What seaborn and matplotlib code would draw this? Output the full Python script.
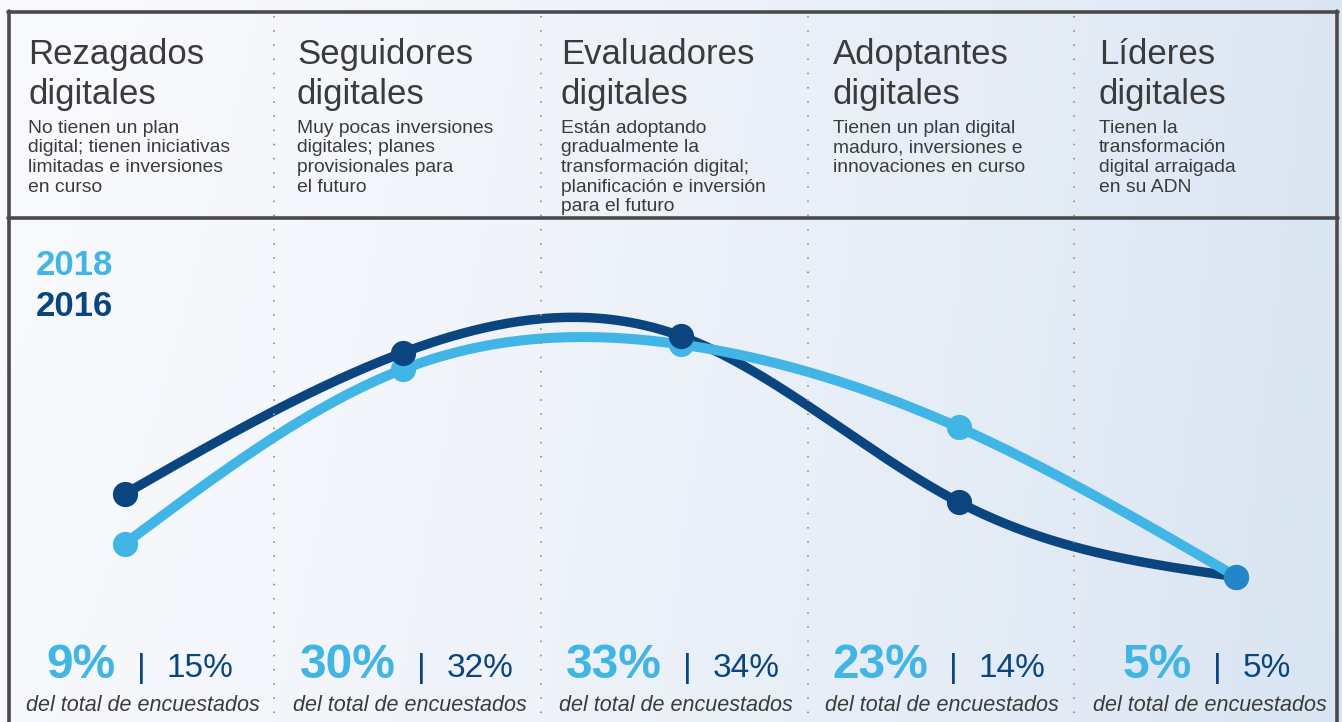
import numpy as np
import pandas as pd
import matplotlib.pyplot as plt
import seaborn as sns
from matplotlib.lines import Line2D

# Datos
categorias = ["Rezagados\ndigitales", "Seguidores\ndigitales", "Evaluadores\ndigitales",
              "Adoptantes\ndigitales", "Líderes\ndigitales"]
descripciones = [
    "No tienen un plan\ndigital; tienen iniciativas\nlimitadas e inversiones\nen curso",
    "Muy pocas inversiones\ndigitales; planes\nprovisionales para\nel futuro",
    "Están adoptando\ngradualmente la\ntransformación digital;\nplanificación e inversión\npara el futuro",
    "Tienen un plan digital\nmaduro, inversiones e\ninnovaciones en curso",
    "Tienen la\ntransformación\ndigital arraigada\nen su ADN",
]
valores_2018 = [9, 30, 33, 23, 5]
valores_2016 = [15, 32, 34, 14, 5]
anios = ["2018", "2016"]
pie = "del total de encuestados"

AZUL_CLARO = "#41b5e5"
AZUL_OSCURO = "#0a4580"
GRIS = "#3b3b3b"
BORDE = "#4a4a4a"

sns.set_theme(style="white")
plt.rcParams['font.family'] = ['Liberation Sans', 'DejaVu Sans']

W, H = 1342, 722
fig = plt.figure(figsize=(W / 100, H / 100), dpi=100)
ax = fig.add_axes([0, 0, 1, 1])

# escala: x = indice de categoria, y = porcentaje
ax.set_xlim(-0.45, 4.38)
ax.set_ylim(-12.5, 74.5)
ax.axis('off')


def px(x, y):
    # pixeles de la figura -> fraccion de figura
    return x / W, 1 - y / H


# Fondo degradado
gx = np.linspace(0, 1, 400)
gy = np.linspace(0, 1, 100)
GX, GY = np.meshgrid(gx, gy)
t = np.clip(GX ** 1.4 * 0.9 + (1 - GY) * 0.08, 0, 1)
c0 = np.array([0.975, 0.98, 0.992])
c1 = np.array([0.85, 0.895, 0.95])
img = c0[None, None, :] * (1 - t[..., None]) + c1[None, None, :] * t[..., None]
ax.imshow(img, extent=[*ax.get_xlim(), *ax.get_ylim()], aspect='auto', origin='lower', zorder=0)

# Marco
for (x0, y0, x1, y1) in [(8, 12, 1338, 12), (8, 218, 1338, 218), (9, 11, 9, 722), (1337, 11, 1337, 722)]:
    a, b = px(x0, y0)
    c, d = px(x1, y1)
    fig.add_artist(Line2D([a, c], [b, d], color=BORDE, lw=2.6, transform=fig.transFigure, zorder=5))

# Separadores punteados
for xs in [274, 541, 808, 1074]:
    a, b = px(xs, 16)
    c, d = px(xs, 722)
    fig.add_artist(Line2D([a, c], [b, d], color="#9a9a9a", lw=1.4, ls=(0, (0.8, 6.5)),
                          transform=fig.transFigure, zorder=1))

# Encabezados
col_x = [28, 297, 561, 833, 1099]
for i, (cat, desc) in enumerate(zip(categorias, descripciones)):
    for j, linea in enumerate(cat.split("\n")):
        fig.text(*px(col_x[i], 64 + 40 * j), linea, fontsize=25, color=GRIS, va='baseline', ha='left')
    for j, linea in enumerate(desc.split("\n")):
        fig.text(*px(col_x[i], 133 + 19.5 * j), linea, fontsize=13.9, color=GRIS, va='baseline', ha='left')

# Curvas suavizadas (spline cubico natural)
def spline_natural(x, y, n=300):
    x = np.asarray(x, float)
    y = np.asarray(y, float)
    k = len(x)
    h = np.diff(x)
    A = np.zeros((k, k))
    b = np.zeros(k)
    A[0, 0] = A[-1, -1] = 1
    for i in range(1, k - 1):
        A[i, i - 1] = h[i - 1]
        A[i, i] = 2 * (h[i - 1] + h[i])
        A[i, i + 1] = h[i]
        b[i] = 6 * ((y[i + 1] - y[i]) / h[i] - (y[i] - y[i - 1]) / h[i - 1])
    M = np.linalg.solve(A, b)
    xs = np.linspace(x[0], x[-1], n)
    idx = np.clip(np.searchsorted(x, xs) - 1, 0, k - 2)
    x0, x1 = x[idx], x[idx + 1]
    hh = x1 - x0
    ys = (M[idx] * (x1 - xs) ** 3 + M[idx + 1] * (xs - x0) ** 3) / (6 * hh) \
        + (y[idx] / hh - M[idx] * hh / 6) * (x1 - xs) + (y[idx + 1] / hh - M[idx + 1] * hh / 6) * (xs - x0)
    return xs, ys


pos = np.arange(len(categorias))
df = pd.DataFrame({'pos': np.tile(pos, 2),
                   'valor': valores_2018 + valores_2016,
                   'anio': np.repeat(anios, len(pos))})

xs16, ys16 = spline_natural(pos, valores_2016)
xs18, ys18 = spline_natural(pos, valores_2018)
sns.lineplot(x=xs16, y=ys16, color=AZUL_OSCURO, lw=6.8, sort=False, ax=ax, zorder=3)
sns.lineplot(x=xs18, y=ys18, color=AZUL_CLARO, lw=7.2, sort=False, ax=ax, zorder=4)
d18 = df[df.anio == "2018"]
d16 = df[df.anio == "2016"]
sns.scatterplot(data=d18, x='pos', y='valor', color=AZUL_CLARO, s=330, linewidth=0, ax=ax, zorder=5)
sns.scatterplot(data=d16.iloc[:-1], x='pos', y='valor', color=AZUL_OSCURO, s=330, linewidth=0, ax=ax, zorder=6)
sns.scatterplot(data=d16.iloc[-1:], x='pos', y='valor', color="#2386c8", s=330, linewidth=0, ax=ax, zorder=6)

# Leyenda
fig.text(*px(36, 275), anios[0], fontsize=25, fontweight='bold', color=AZUL_CLARO, va='baseline')
fig.text(*px(36, 316), anios[1], fontsize=25, fontweight='bold', color=AZUL_OSCURO, va='baseline')

# Porcentajes inferiores (grupo centrado en cada columna)
centros = [140, 407, 673, 939, 1207]
renderer = fig.canvas.get_renderer()
hueco = 21
for i in range(len(categorias)):
    t1 = fig.text(0, 0, f"{valores_2018[i]}%", fontsize=34.5, fontweight='bold', color=AZUL_CLARO,
                  ha='left', va='baseline')
    t2 = fig.text(0, 0, "|", fontsize=24, color=AZUL_OSCURO, ha='left', va='baseline')
    t3 = fig.text(0, 0, f"{valores_2016[i]}%", fontsize=24, color=AZUL_OSCURO, ha='left', va='baseline')
    w1, w2, w3 = [tt.get_window_extent(renderer).width for tt in (t1, t2, t3)]
    x = centros[i] - (w1 + w2 + w3 + 2 * hueco) / 2
    t1.set_position(px(x, 678))
    t2.set_position(px(x + w1 + hueco, 677))
    t3.set_position(px(x + w1 + w2 + 2 * hueco, 677))
    fig.text(*px(centros[i] + 3, 711), pie, fontsize=15.5, style='italic', color=GRIS,
             ha='center', va='baseline')

fig.savefig("out.png", dpi=100)
